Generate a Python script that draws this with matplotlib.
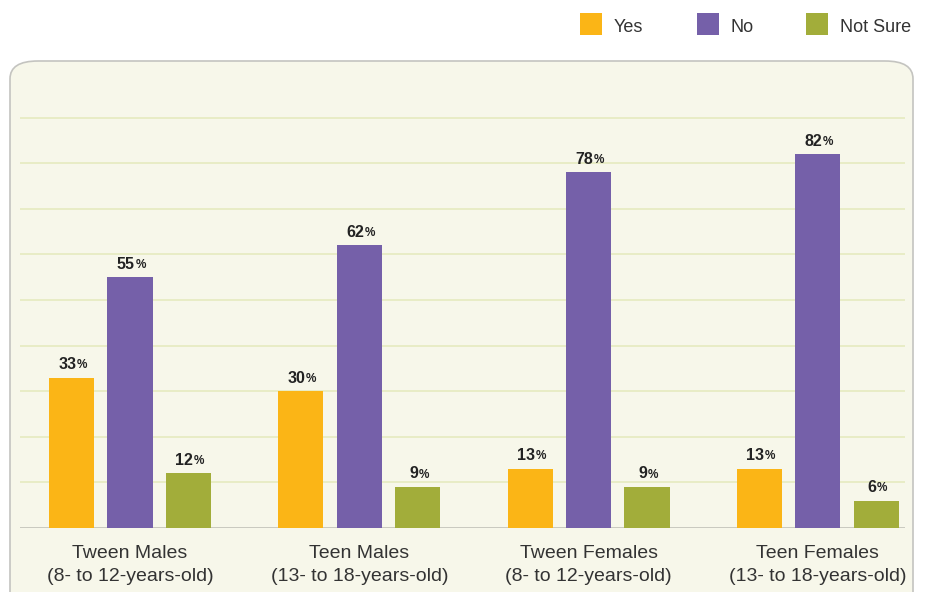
import matplotlib.pyplot as plt
from matplotlib.patches import FancyBboxPatch, Rectangle
import numpy as np

plt.rcParams['font.family'] = ['Liberation Sans Narrow', 'Liberation Sans', 'DejaVu Sans']

groups = ['Tween Males\n(8- to 12-years-old)', 'Teen Males\n(13- to 18-years-old)',
          'Tween Females\n(8- to 12-years-old)', 'Teen Females\n(13- to 18-years-old)']
series = ['Yes', 'No', 'Not Sure']
yes = [33, 30, 13, 13]
no = [55, 62, 78, 82]
not_sure = [12, 9, 9, 6]
colors = ['#fbb516', '#7560a9', '#a2ad3a']

W, H = 932, 592
fig = plt.figure(figsize=(W / 100, H / 100), dpi=100)

# rounded panel behind the chart
panel = FancyBboxPatch((10 / W, -20 / H), 903 / W, (H - 61 + 20) / H,
                       boxstyle='round,pad=0,rounding_size=0.03',
                       transform=fig.transFigure, facecolor='#f7f7ea',
                       edgecolor='#c4c4c0', linewidth=1.2, zorder=-5)
fig.patches.append(panel)

ax = fig.add_axes([20 / W, 64 / H, 885 / W, (528 - 72) / H])
ax.patch.set_visible(False)

x = np.arange(len(groups))
step = 0.255
width = 0.197
for i, (vals, c) in enumerate(zip([yes, no, not_sure], colors)):
    xs = x + (i - 1) * step
    ax.bar(xs, vals, width, color=c, zorder=3)
    for xv, v in zip(xs, vals):
        t = ax.annotate(str(v), (xv, v), xytext=(-3, 4), textcoords='offset points',
                        ha='center', va='bottom', fontsize=11.5, fontweight='bold',
                        color='#222222', zorder=4)
        ax.annotate('%', xy=(1, 0), xycoords=t, xytext=(0.4, 0.5),
                    textcoords='offset points', ha='left', va='bottom',
                    fontsize=8.5, fontweight='bold', color='#222222', zorder=4)

for yv in range(10, 100, 10):
    ax.axhline(yv, color='#e5eabf', linewidth=1.2, zorder=1)
ax.axhline(0, color='#c2c2b8', linewidth=1.2, zorder=2)

ax.set_xlim(-0.48, 3.38)
ax.set_ylim(0, 100)
ax.set_yticks([])
ax.set_xticks(x)
ax.set_xticklabels(groups, fontsize=14, color='#333333', linespacing=1.45)
ax.tick_params(axis='x', length=0, pad=12)
for s in ax.spines.values():
    s.set_visible(False)

# legend across the top
leg_x = [580, 697, 806]
for lx, name, c in zip(leg_x, series, colors):
    fig.patches.append(Rectangle((lx / W, (H - 35) / H), 22 / W, 22 / H,
                                 transform=fig.transFigure, facecolor=c,
                                 edgecolor='none'))
    fig.text((lx + 34) / W, (H - 27) / H, name, fontsize=13, color='#333333',
             va='center', ha='left')

fig.savefig('out.png', dpi=100)
